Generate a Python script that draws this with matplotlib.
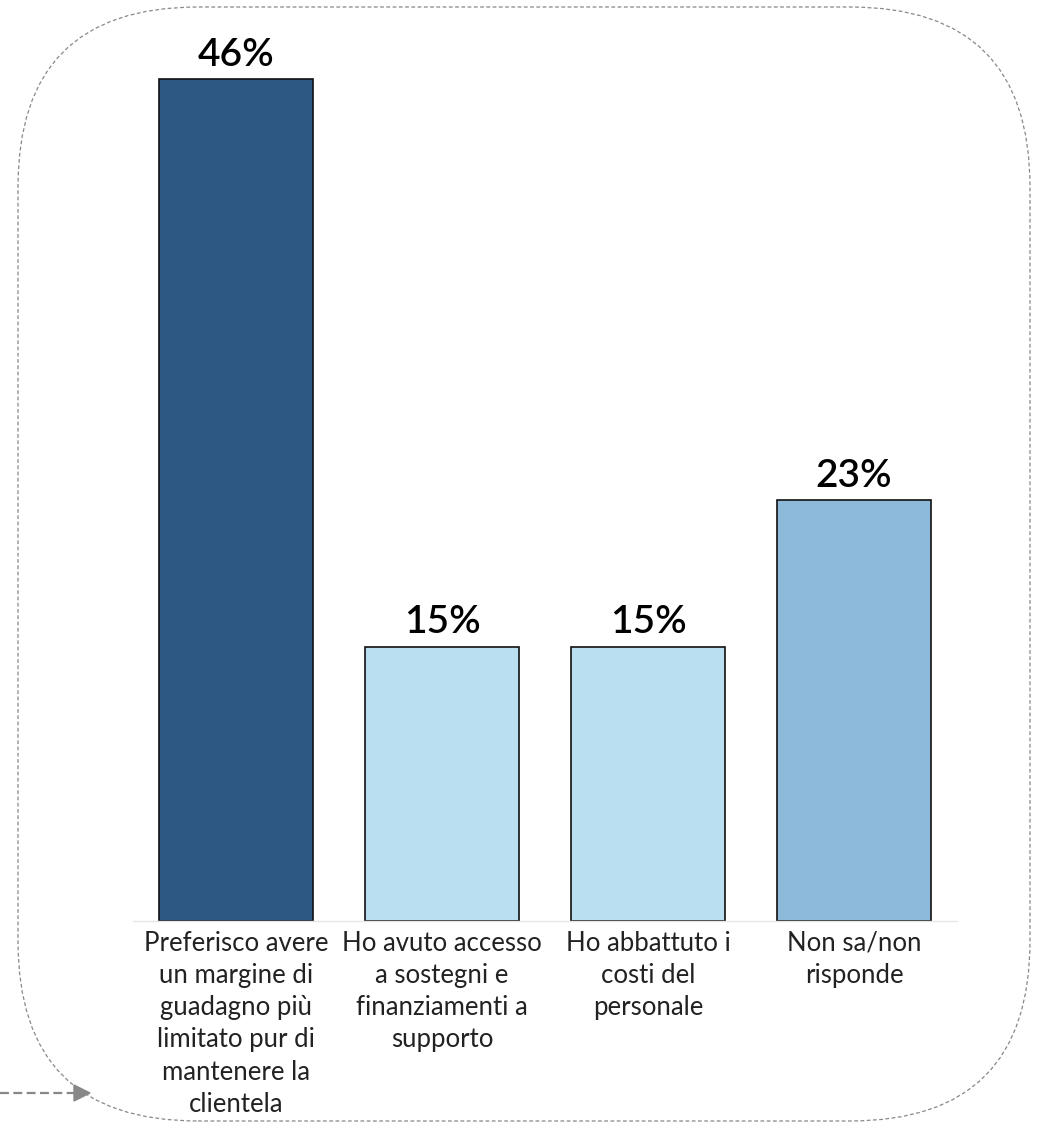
import matplotlib.pyplot as plt
from matplotlib.patches import FancyBboxPatch

categories = [
    "Preferisco avere\nun margine di\nguadagno più\nlimitato pur di\nmantenere la\nclientela",
    "Ho avuto accesso\na sostegni e\nfinanziamenti a\nsupporto",
    "Ho abbattuto i\ncosti del\npersonale",
    "Non sa/non\nrisponde",
]
values = [46, 15, 15, 23]
colors = ["#2c5883", "#badff1", "#badff1", "#8dbadb"]

plt.rcParams["font.family"] = ["Lato", "DejaVu Sans"]

W, H = 1037, 1123
fig = plt.figure(figsize=(W / 100, H / 100), dpi=100)

# axes placed in pixel terms
left, right, bottom, top = 133, 957, H - 921, H - 6
ax = fig.add_axes([left / W, bottom / H, (right - left) / W, (top - bottom) / H])
x = range(len(values))
bars = ax.bar(x, values, width=0.75, color=colors, edgecolor="#111111", linewidth=1.2, zorder=2)
for b, v in zip(bars, values):
    ax.text(b.get_x() + b.get_width() / 2, v + 0.35, f"{v}%", ha="center", va="bottom",
            fontsize=28, fontweight="semibold", color="black")

ax.set_xlim(-0.5, 3.5)
ax.set_ylim(0, 50)
ax.set_yticks([])
ax.set_xticks(list(x))
ax.set_xticklabels(categories, fontsize=18.5, linespacing=1.36, color="#222222")
ax.tick_params(axis="x", length=0, pad=7)
for s in ["top", "right", "left"]:
    ax.spines[s].set_visible(False)
ax.spines["bottom"].set_color("#e6e6e6")
ax.spines["bottom"].set_linewidth(1)

# rounded dashed frame
box = FancyBboxPatch((0.18, 0.02), 10.12, 11.14,
                     boxstyle="round,pad=0,rounding_size=1.8",
                     transform=fig.dpi_scale_trans, fill=False,
                     edgecolor="#888888", linewidth=0.9, linestyle=(0, (3, 2)))
fig.patches.append(box)

# arrow entering from the left
fig.add_artist(plt.Line2D([0, 75 / W], [30 / H, 30 / H], transform=fig.transFigure,
                          color="#888888", linewidth=1.6, linestyle=(0, (4, 2))))
fig.add_artist(plt.Polygon([[74 / W, 38 / H], [74 / W, 22 / H], [90 / W, 30 / H]],
                           closed=True, transform=fig.transFigure, color="#888888"))

fig.savefig("out.png", dpi=100)
